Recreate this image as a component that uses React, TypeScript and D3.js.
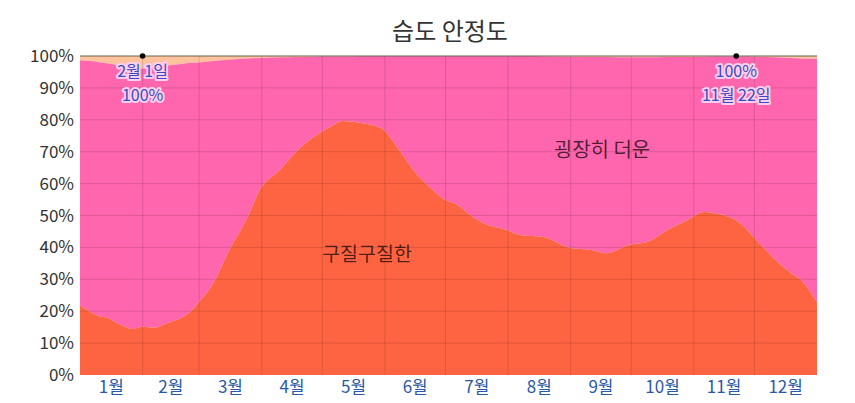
import React from "react";
import * as d3 from "d3";

const title = "습도 안정도";
const monthLabels = ["1월","2월","3월","4월","5월","6월","7월","8월","9월","10월","11월","12월"];
const monthStarts = [0,31,59,90,120,151,181,212,243,273,304,334,365];
const yTicks = [0,10,20,30,40,50,60,70,80,90,100];

const days = [0,5,10,13,18,22,26,31,37,43,51,54,59,66,74,83,89,99,107,115,124,130,139,149,157,165,173,180,187,193,202,211,218,229,243,253,261,272,281,291,301,309,318,327,335,343,352,357,365];
const muggy = [21.8,19.8,18.3,18,16.4,15.2,14.4,15.1,14.8,16.2,18.2,19.4,23,28.8,39.2,49.5,58,64.3,70,74.3,77.8,79.6,79,77.4,71.5,64.3,59,55.2,53.3,50.2,47,45.5,43.9,43.3,39.8,39.2,38.2,40.8,41.7,45.5,48.6,51.1,50.2,47.6,42.3,37,32,29.8,22.9];
const peach = [1.3,1.6,2,2.3,2.8,3.3,3.8,3.9,3.5,3.0,2.4,2.2,2.0,1.6,1.2,0.8,0.6,0.4,0.3,0.2,0.1,0.1,0,0,0,0,0,0,0,0,0,0,0,0.1,0.2,0.3,0.3,0.4,0.4,0.3,0.3,0.2,0.1,0.1,0.2,0.4,0.6,0.8,0.9];

const annotations = [
  { day: 31, value: 100, lines: ["2월 1일", "100%"] },
  { day: 325, value: 100, lines: ["100%", "11월 22일"] },
];

const W = 855, H = 403;
const M = { left: 80, right: 38, top: 56, bottom: 28 };

export default function App() {
  const x = d3.scaleLinear().domain([0, 365]).range([M.left, W - M.right]);
  const y = d3.scaleLinear().domain([0, 100]).range([H - M.bottom, M.top]);
  const pts = days.map((d, i) => ({ d, m: muggy[i], p: peach[i] }));
  const curve = d3.curveMonotoneX;
  const areaMuggy = d3.area<any>().x(p => x(p.d)).y0(y(0)).y1(p => y(p.m)).curve(curve);
  const areaHot = d3.area<any>().x(p => x(p.d)).y0(p => y(p.m)).y1(p => y(100 - p.p)).curve(curve);
  const areaPeach = d3.area<any>().x(p => x(p.d)).y0(p => y(100 - p.p)).y1(y(100)).curve(curve);
  const font = "'Noto Sans CJK KR', 'Noto Sans', sans-serif";
  return (
    <div style={{ position: "absolute", left: 0, top: 0 }}>
      <svg width={W} height={H} style={{ display: "block", fontFamily: font }}>
        <rect width={W} height={H} fill="#fff" />
        <text x={450} y={40} textAnchor="middle" fontSize={24} fill="#333">{title}</text>
        <path d={areaPeach(pts) || ""} fill="#ffc29c" />
        <path d={areaHot(pts) || ""} fill="#ff66ad" />
        <path d={areaMuggy(pts) || ""} fill="#ff6442" />
        {yTicks.filter(t => t > 0 && t < 100).map(t => (
          <line key={"h" + t} x1={x(0)} x2={x(365)} y1={y(t)} y2={y(t)} stroke="#000" strokeOpacity={0.13} />
        ))}
        {monthStarts.slice(1, 12).map(d => (
          <line key={"v" + d} x1={x(d)} x2={x(d)} y1={y(0)} y2={y(100)} stroke="#000" strokeOpacity={0.13} />
        ))}
        <line x1={x(0)} x2={x(365)} y1={y(100)} y2={y(100)} stroke="#66664f" strokeWidth={1.2} />
        {yTicks.map(t => (
          <text key={"yt" + t} x={74} y={y(t) + 6} textAnchor="end" fontSize={17} fill="#333">{t}%</text>
        ))}
        {monthLabels.map((m, i) => (
          <text key={m} x={x((monthStarts[i] + monthStarts[i + 1]) / 2)} y={393} textAnchor="middle" fontSize={17} fill="#2a58a8">{m}</text>
        ))}
        <text x={367} y={261} textAnchor="middle" fontSize={19.5} fill="#000" fillOpacity={0.7}>구질구질한</text>
        <text x={602} y={157} textAnchor="middle" fontSize={20} fill="#000" fillOpacity={0.7}>굉장히 더운</text>
        {annotations.map((a, i) => (
          <g key={"a" + i}>
            <circle cx={x(a.day)} cy={y(a.value)} r={2.8} fill="#000" />
            {a.lines.map((l, j) => (
              <text key={j} x={x(a.day)} y={y(a.value) + 21 + j * 23.5} textAnchor="middle" fontSize={16}
                fill="#3b4cc0" stroke="#ffcfee" strokeWidth={4} strokeLinejoin="round" style={{ paintOrder: "stroke" }}>{l}</text>
            ))}
          </g>
        ))}
      </svg>
    </div>
  );
}
